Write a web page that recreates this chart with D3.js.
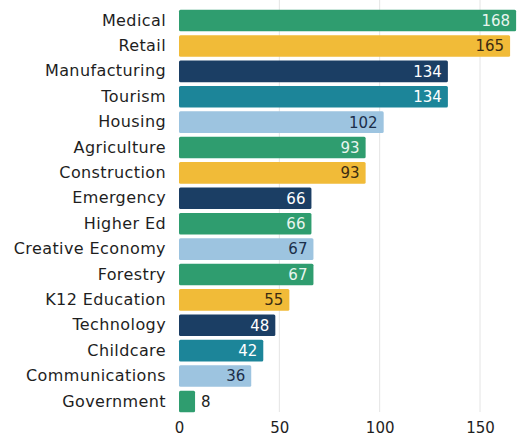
<!DOCTYPE html>
<html><head><meta charset="utf-8">
<script src="https://cdn.jsdelivr.net/npm/d3@7"></script>
<style>body{margin:0;background:#fff;}svg{display:block;}</style>
</head><body>
<script>
const categories = ["Medical","Retail","Manufacturing","Tourism","Housing","Agriculture","Construction","Emergency","Higher Ed","Creative Economy","Forestry","K12 Education","Technology","Childcare","Communications","Government"];
const values = [168,165,134,134,102,93,93,66,66,67,67,55,48,42,36,8];
const colorGroups = ["green","yellow","navy","teal","light","green","yellow","navy","green","light","green","yellow","navy","teal","light","green"];
const tickValues = [0,50,100,150];

const palette = {green:"#2f9d6f",yellow:"#f1bb38",navy:"#1b3e64",teal:"#1c8599",light:"#9dc4e0"};
const labelColor = {green:"#e8f5ee",yellow:"#3b2c12",navy:"#ffffff",teal:"#ffffff",light:"#1b2e4a"};

const W=529,H=438;
const svg=d3.select("body").append("svg").attr("width",W).attr("height",H);
const font="'DejaVu Sans', sans-serif";
const x=d3.scaleLinear().domain([0,150]).range([179,480]);
const y=d3.scaleBand().domain(categories).range([8,414]).paddingInner(0.15).paddingOuter(0.07);

svg.append("g").selectAll("line").data(tickValues.filter(d=>d>0)).join("line")
  .attr("x1",d=>x(d)).attr("x2",d=>x(d)).attr("y1",0).attr("y2",412)
  .attr("stroke","#e4e4e4").attr("stroke-width",1);

const rows=categories.map((c,i)=>({c,v:values[i],g:colorGroups[i]}));
svg.append("g").selectAll("rect").data(rows).join("rect")
  .attr("x",x(0)).attr("y",d=>y(d.c)).attr("width",d=>x(d.v)-x(0)).attr("height",y.bandwidth())
  .attr("rx",1.5).attr("fill",d=>palette[d.g]);

svg.append("g").selectAll("text").data(rows).join("text")
  .attr("x",d=>d.v<20? x(d.v)+6 : x(d.v)-6)
  .attr("y",d=>y(d.c)+y.bandwidth()/2).attr("dy","0.36em")
  .attr("text-anchor",d=>d.v<20?"start":"end")
  .attr("font-family",font).attr("font-size",15)
  .attr("fill",d=>d.v<20?"#222":labelColor[d.g]).text(d=>d.v);

const ya=svg.append("g").attr("transform",`translate(${x(0)-13},0)`)
  .call(d3.axisLeft(y).tickSize(0).tickPadding(0));
ya.select(".domain").remove();
ya.selectAll("text").attr("font-family",font).attr("font-size",16).attr("letter-spacing","0.4px").attr("fill","#1e1e1e");

const xa=svg.append("g").attr("transform","translate(0,419)")
  .call(d3.axisBottom(x).tickValues(tickValues).tickSize(0).tickPadding(3).tickFormat(d3.format("d")));
xa.select(".domain").remove();
xa.selectAll("text").attr("font-family",font).attr("font-size",15).attr("fill","#1e1e1e");
</script>
</body></html>
